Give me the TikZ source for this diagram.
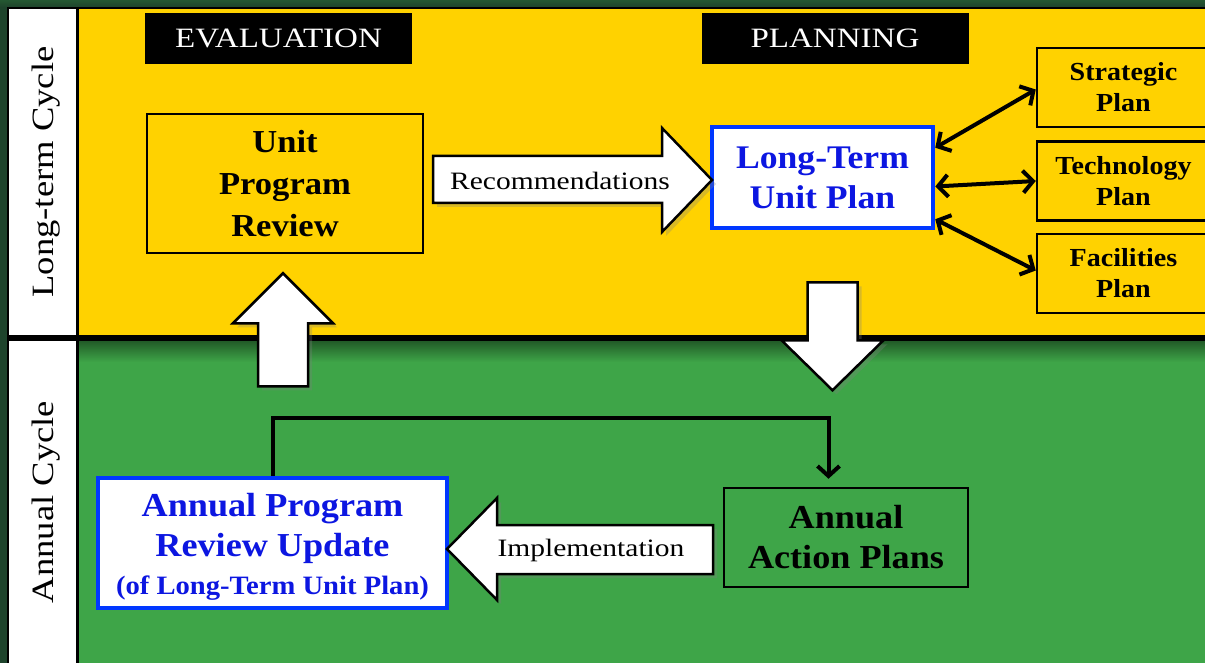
\documentclass[tikz,border=0pt]{standalone}
\usepackage{fontspec}
\setmainfont{Liberation Serif}[FakeStretch=1.08]
\newfontfamily\widefont{Liberation Serif}[FakeStretch=1.18]
\usetikzlibrary{arrows.meta,shadows,calc}

\definecolor{panelyellow}{RGB}{255,210,0}
\definecolor{panelgreen}{RGB}{62,165,72}
\definecolor{outergreen}{RGB}{30,68,44}
\definecolor{planblue}{RGB}{12,22,225}
\definecolor{frameblue}{RGB}{0,55,255}

\tikzset{
  header/.style={fill=black, text=white, inner sep=0pt,
    minimum width=267pt, minimum height=51pt,
    font=\widefont\fontsize{28}{32}\selectfont},
  plainbox/.style={draw=black, line width=2.5pt, inner sep=0pt, align=center},
  bluebox/.style={draw=frameblue, fill=white, line width=4.5pt, inner sep=0pt,
    align=center, text=planblue},
  sidebox/.style={plainbox, fill=panelyellow, minimum width=173pt, minimum height=79pt,
    font=\fontsize{26}{31}\selectfont\bfseries},
  fatarrow/.style={draw=black, fill=white, line width=2.5pt, line join=miter,
    drop shadow={shadow xshift=4pt, shadow yshift=-4pt, opacity=.3}},
  arrowtext/.style={inner sep=0pt, font=\widefont\fontsize{25}{28}\selectfont},
  sidelabel/.style={rotate=90, inner sep=0pt, font=\widefont\fontsize{31}{34}\selectfont},
  barb/.tip={Straight Barb[length=10pt,width=22pt]},
  dbl/.style={line width=4pt, barb-barb},
  conn/.style={line width=4pt, -barb}
}

\begin{document}
\begin{tikzpicture}[x=1pt,y=-1pt]
\useasboundingbox (0,0) rectangle (1205,663);
\clip (0,0) rectangle (1205,663);

% frame and the two cycle bands
\fill[outergreen] (0,0) rectangle (1205,663);
\shade[top color=outergreen!80!panelgreen, bottom color=outergreen] (0,0) rectangle (1205,7);
\fill[black] (7,7) rectangle (1205,663);
\fill[white] (9,9) rectangle (76,335);
\fill[white] (9,341) rectangle (76,663);
\fill[panelyellow] (79,9) rectangle (1205,335);
\fill[panelgreen] (79,341) rectangle (1205,663);
\shade[top color=panelgreen!55!black, bottom color=panelgreen] (79,341) rectangle (1205,362);

\node[sidelabel] (ltc) at (46,172) {Long-term Cycle};
\node[sidelabel] (ac) at (46,502) {Annual Cycle};

% headings
\node[header] (eval) at (278.5,38.5) {EVALUATION};
\node[header] (plan) at (835,38.5) {PLANNING};

% long-term cycle boxes
\node[plainbox, fill=panelyellow, minimum width=276pt, minimum height=139pt,
      font=\fontsize{32}{42}\selectfont\bfseries] (urp) at (285,183.5)
      {Unit\\Program\\Review};
\node[bluebox, minimum width=221pt, minimum height=101pt,
      font=\fontsize{33}{40}\selectfont\bfseries] (ltup) at (822.5,177.5)
      {Long-Term\\Unit Plan};
\node[sidebox] (strat) at (1123.5,87.5) {Strategic\\Plan};
\node[sidebox] (tech) at (1123.5,181) {Technology\\Plan};
\node[sidebox] (fac) at (1123.5,273.5) {Facilities\\Plan};

% annual cycle boxes
\node[bluebox, minimum width=349pt, minimum height=130pt,
      font=\fontsize{33.5}{40}\selectfont\bfseries] (apru) at (272.5,543)
      {\rule{0pt}{30pt}Annual Program\\Review Update\\[-2pt]{\fontsize{26.5}{30}\selectfont (of Long-Term Unit Plan)}};
\node[plainbox, fill=panelgreen, minimum width=244pt, minimum height=99pt,
      font=\fontsize{33.5}{40}\selectfont\bfseries] (aap) at (846,537.5)
      {Annual\\Action Plans};

% links between the long-term plan and the institutional plans
\draw[dbl] ($(ltup.north east)+(0,23)$) -- ($(strat.west)+(0,2)$);
\draw[dbl] ($(ltup.east)+(0,9)$) -- (tech.west);
\draw[dbl] ($(ltup.south east)+(0,-11)$) -- ($(fac.west)+(0,-3)$);

% feedback from the annual update into the action plans
\coordinate (bend) at (828.5,418);
\draw[conn, shorten >=8pt] (apru.north) |- (bend) -- (bend |- aap.north);

% block arrows
\coordinate (rectip) at (712,180);
\draw[fatarrow] (433,156) -- (662,156) -- (662,128) -- (rectip)
  -- (662,232) -- (662,203) -- (433,203) -- cycle;
\node[arrowtext] (rec) at (560,181) {Recommendations};

\coordinate (imptip) at (447,549);
\draw[fatarrow] (imptip) -- (497,498) -- (497,525) -- (713,525)
  -- (713,574) -- (497,574) -- (497,600) -- cycle;
\node[arrowtext] (impl) at (591,550) {Implementation};

\draw[fatarrow] ($(urp.south)+(-2,19)$) -- ++(50,50) -- ++(-25,0) -- ++(0,63)
  -- ++(-50,0) -- ++(0,-63) -- ++(-25,0) -- cycle;

\draw[fatarrow] ($(ltup.south)+(10,160)$) -- ++(-51,-50) -- ++(26,0) -- ++(0,-58)
  -- ++(50,0) -- ++(0,58) -- ++(26,0) -- cycle;
\end{tikzpicture}
\end{document}
